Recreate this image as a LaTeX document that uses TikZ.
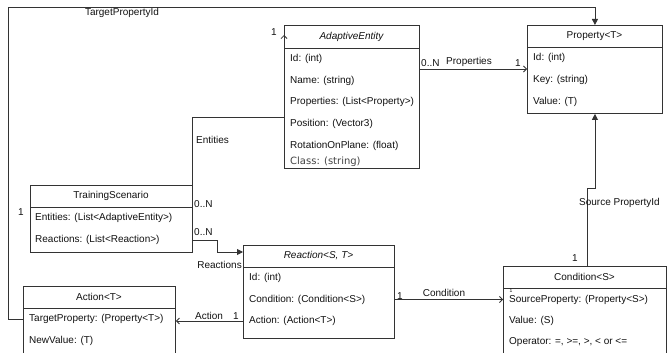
\documentclass[tikz,border=0pt]{standalone}
\usepackage{fontspec}
\setmainfont{Liberation Sans}
\newfontfamily\dejavu{DejaVu Sans}
\usetikzlibrary{arrows.meta}
\definecolor{lc}{HTML}{333333}
\definecolor{tc}{HTML}{111111}
\definecolor{cc}{HTML}{444444}
\newcommand\fs{\fontsize{10}{12}\selectfont}
\begin{document}
\begin{tikzpicture}[x=1pt,y=-1pt,
  box/.style={draw=lc, line width=0.9pt, anchor=north west, inner sep=0pt, fill=white},
  hdr/.style={font=\fs, text=tc, inner sep=0pt},
  ihdr/.style={font=\fs\itshape, text=tc, inner sep=0pt},
  row/.style={font=\fs, anchor=west, inner sep=0pt, text=tc},
  lbl/.style={font=\fs, inner sep=0pt, text=tc},
  conn/.style={draw=lc, line width=0.9pt},
  openarr/.style={-{Straight Barb[length=3pt,width=6pt,line width=0.8pt]}},
  fillarr/.style={-{Triangle[length=6pt,width=6pt]}}
]
\useasboundingbox (0,0) rectangle (667,353);
\clip (0,0) rectangle (667,353);

% ---------- boxes ----------
% AdaptiveEntity
\node[box, minimum width=135pt, minimum height=143pt] (ae) at (284,25) {};
\draw[conn] (284,48) -- (419,48);
\node[ihdr] (aeT) at (351.5,36.5) {AdaptiveEntity};
\node[row] (aeId) at (290,59) {Id: (int)};
\node[row] (aeNa) at (290,80.5) {Name: (string)};
\node[row] (aePr) at (290,102) {Properties: (List<Property>)};
\node[row] (aePo) at (290,124) {Position: (Vector3)};
\node[row] (aeRo) at (290,146) {RotationOnPlane: (float)};
\node[row, font=\dejavu\fontsize{10}{12}\selectfont, text=cc] (aeCl) at (290,161.5) {Class: (string)};

% Property<T>
\node[box, minimum width=135pt, minimum height=88pt] (pr) at (527,25) {};
\draw[conn] (527,47) -- (662,47);
\node[hdr] (prT) at (594.5,36) {Property<T>};
\node[row] (prId) at (533,58) {Id: (int)};
\node[row] (prKe) at (533,80) {Key: (string)};
\node[row] (prVa) at (533,102) {Value: (T)};

% TrainingScenario
\node[box, minimum width=162pt, minimum height=67pt] (ts) at (30,185) {};
\draw[conn] (30,207) -- (192,207);
\node[hdr] (tsT) at (111,196) {TrainingScenario};
\node[row] (tsE) at (35,218) {Entities: (List<AdaptiveEntity>)};
\node[row] (tsR) at (35,240) {Reactions: (List<Reaction>)};

% Reaction<S, T>
\node[box, minimum width=151pt, minimum height=93pt] (re) at (243,245) {};
\draw[conn] (243,267) -- (394,267);
\node[ihdr] (reT) at (318.5,256) {Reaction<S, T>};
\node[row] (reId) at (249,278) {Id: (int)};
\node[row] (reC) at (249,299.5) {Condition: (Condition<S>)};
\node[row] (reA) at (249,321) {Action: (Action<T>)};

% Condition<S>
\node[box, minimum width=163pt, minimum height=100pt] (co) at (503,266) {};
\draw[conn] (503,288) -- (666,288);
\node[hdr] (coT) at (584.5,277) {Condition<S>};
\node[row] (coSP) at (509,299.5) {SourceProperty: (Property<S>)};
\node[row] (coV) at (509,321) {Value: (S)};
\node[row] (coO) at (509,342.5) {Operator: =, >=, >, < or <=};

% Action<T>
\node[box, minimum width=152pt, minimum height=80pt] (ac) at (23,286) {};
\draw[conn] (23,308) -- (175,308);
\node[hdr] (acT) at (99,297) {Action<T>};
\node[row] (acTP) at (29,319) {TargetProperty: (Property<T>)};
\node[row] (acNV) at (29,341) {NewValue: (T)};

% ---------- helper coordinates ----------
\coordinate (tpCorner) at (8,7);
\coordinate (yEnt) at (0,117);
\coordinate (yEntTip) at (0,35);
\coordinate (yProps) at (0,69);
\coordinate (rBend) at (217,252);
\coordinate (spBend) at (587,188);

% ---------- connectors ----------
% TargetPropertyId
\draw[conn, fillarr] (ac.west |- acTP) -| (tpCorner) -| (pr.north);
% Entities
\draw[conn, openarr] (ts.north east) |- (ae.west |- yEnt) -- (ae.west |- yEntTip);
% Properties
\draw[conn, openarr] (ae.east |- yProps) -- (pr.west |- yProps);
% Reactions
\draw[conn, fillarr] (ts.east |- tsR) -| (rBend) -- (re.west |- rBend);
% Condition
\draw[conn, openarr] (re.east |- reC) -- (co.west |- reC);
% Action
\draw[conn, openarr] (re.west |- reA) -- (ac.east |- reA);
% SourcePropertyId
\draw[conn, fillarr] (co.north -| spBend) -- (spBend) -| (pr.south);

% ---------- labels ----------
\node[lbl] (lTP) at (122,13) {TargetPropertyId};
\node[lbl] (lTP1) at (21,212) {1};
\node[lbl] (lEnt1) at (274,32) {1};
\node[lbl, anchor=west] (lEnt) at (196,140) {Entities};
\node[lbl, anchor=west] (lEntN) at (194,204) {0..N};
\node[lbl, anchor=west] (lReN) at (194,232) {0..N};
\node[lbl, anchor=east] (lRe) at (242,265) {Reactions};
\node[lbl, anchor=west] (lPrN) at (421,63) {0..N};
\node[lbl] (lPr) at (469,62) {Properties};
\node[lbl] (lPr1) at (518,63) {1};
\node[lbl, anchor=west] (lCo1) at (397,296) {1};
\node[lbl] (lCo) at (444,293) {Condition};
\node[lbl, font=\fontsize{5}{6}\selectfont] (lCo1b) at (511,291) {1};
\node[lbl] (lAc) at (209,316) {Action};
\node[lbl] (lAc1) at (236,316) {1};
\node[lbl, anchor=west] (lSP) at (579,203) {Source PropertyId};
\node[lbl] (lSP1) at (575,258) {1};
\end{tikzpicture}
\end{document}
